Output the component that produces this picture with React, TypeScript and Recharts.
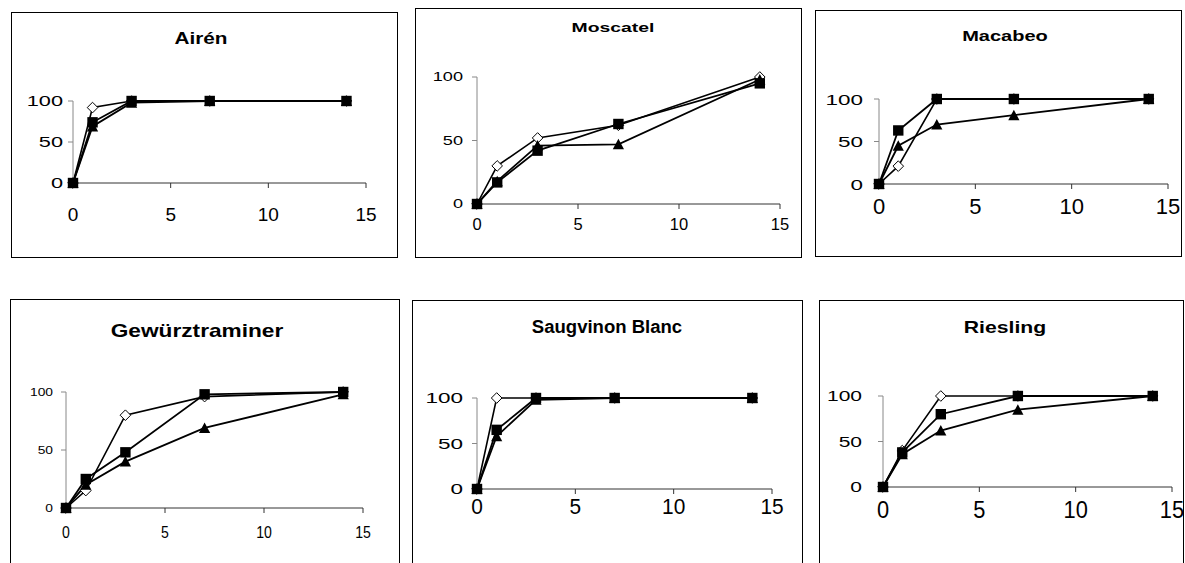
import React from "react";
import { LineChart, Line, XAxis, YAxis } from "recharts";

// sampling days and axis ticks
const days = [0, 1, 3, 7, 14];
const xTicks = [0, 5, 10, 15];
const yTicks = [0, 50, 100];

const titles = ["Airén", "Moscatel", "Macabeo", "Gewürztraminer", "Saugvinon Blanc", "Riesling"];

// % values: open diamond, filled square, filled triangle
const airenOpen = [0, 92, 100, 100, 100];
const airenSquare = [0, 74, 100, 100, 100];
const airenTriangle = [0, 69, 98, 100, 100];

const moscatelOpen = [0, 30, 52, 62, 100];
const moscatelSquare = [0, 17, 42, 63, 95];
const moscatelTriangle = [0, 18, 46, 47, 98];

const macabeoOpen = [0, 21, 100, 100, 100];
const macabeoSquare = [0, 63, 100, 100, 100];
const macabeoTriangle = [0, 45, 70, 81, 100];

const gewurzOpen = [0, 15, 80, 96, 100];
const gewurzSquare = [0, 25, 48, 98, 100];
const gewurzTriangle = [0, 20, 40, 69, 98];

const saugOpen = [0, 100, 100, 100, 100];
const saugSquare = [0, 65, 100, 100, 100];
const saugTriangle = [0, 58, 98, 100, 100];

const rieslingOpen = [0, 40, 100, 100, 100];
const rieslingSquare = [0, 38, 80, 100, 100];
const rieslingTriangle = [0, 36, 62, 85, 100];

const FONT = "'Liberation Sans', Arial, sans-serif";

// layout per panel: box [x, y, w, h], plot [x0, x15, y100, y0] in page px
const layouts = [
  { box: [11, 12, 386, 245], plot: [73, 366, 101, 183], yFs: 15, ySx: 1.45, yGap: 10, xFs: 19, xSx: 1, xGap: 24, tFs: 17, tSx: 1.22, tX: 201, tY: 44 },
  { box: [415, 8, 386, 249], plot: [477, 780, 77, 204], yFs: 12.5, ySx: 1.45, yGap: 14, xFs: 16.5, xSx: 1, xGap: 14, tFs: 12.5, tSx: 1.55, tX: 613, tY: 32 },
  { box: [815, 10, 366, 246], plot: [879, 1168, 99, 184], yFs: 15.5, ySx: 1.45, yGap: 16, xFs: 22, xSx: 1, xGap: 14, tFs: 14, tSx: 1.43, tX: 1005, tY: 41 },
  { box: [10, 299, 389, 280], plot: [66, 363, 392, 508], yFs: 11.5, ySx: 1.2, yGap: 13, xFs: 16, xSx: 0.88, xGap: 19, tFs: 18, tSx: 1.26, tX: 197, tY: 337 },
  { box: [412, 300, 390, 280], plot: [477, 772, 398, 489], yFs: 15, ySx: 1.5, yGap: 14, xFs: 22, xSx: 0.95, xGap: 9, tFs: 18, tSx: 1.03, tX: 607, tY: 333 },
  { box: [819, 300, 364, 280], plot: [883, 1172, 396, 487], yFs: 14, ySx: 1.5, yGap: 21, xFs: 23, xSx: 0.95, xGap: 15, tFs: 16.3, tSx: 1.3, tX: 1005, tY: 333 },
];

const series = [
  [airenOpen, airenSquare, airenTriangle],
  [moscatelOpen, moscatelSquare, moscatelTriangle],
  [macabeoOpen, macabeoSquare, macabeoTriangle],
  [gewurzOpen, gewurzSquare, gewurzTriangle],
  [saugOpen, saugSquare, saugTriangle],
  [rieslingOpen, rieslingSquare, rieslingTriangle],
];

const AXIS_W = 30;
const AXIS_H = 30;

const diamondDot = (p: any) => {
  const { cx, cy, index } = p;
  const r = 5.3;
  return (
    <path
      key={`o-${index}`}
      d={`M${cx},${cy - r} L${cx + r},${cy} L${cx},${cy + r} L${cx - r},${cy} Z`}
      fill="#fff"
      stroke="#000"
      strokeWidth={1}
    />
  );
};

const squareDot = (p: any) => {
  const { cx, cy, index } = p;
  return <rect key={`s-${index}`} x={cx - 5.2} y={cy - 5.2} width={10.4} height={10.4} fill="#000" />;
};

const triangleDot = (p: any) => {
  const { cx, cy, index } = p;
  return (
    <path
      key={`t-${index}`}
      d={`M${cx},${cy - 5.5} L${cx + 5.6},${cy + 5} L${cx - 5.6},${cy + 5} Z`}
      fill="#000"
    />
  );
};

function Panel({ idx }: { idx: number }) {
  const cfg = layouts[idx];
  const [open, square, triangle] = series[idx];
  const data = days.map((d, i) => ({ day: d, open: open[i], square: square[i], triangle: triangle[i] }));
  const [bx, by, bw, bh] = cfg.box;
  const [px0, px1, py1, py0] = cfg.plot;
  const margin = {
    left: px0 - bx - AXIS_W,
    right: bx + bw - px1,
    top: py1 - by,
    bottom: by + bh - py0 - AXIS_H,
  };
  const axisX = px0 - bx;
  const axisY = py0 - by;

  const xTick = (p: any) => {
    const tx = p.x;
    const ty = axisY + cfg.xGap + cfg.xFs * 0.716;
    return (
      <text
        transform={`translate(${tx},${ty}) scale(${cfg.xSx},1)`}
        textAnchor="middle"
        fontSize={cfg.xFs}
        fontFamily={FONT}
        fill="#000"
      >
        {p.payload.value}
      </text>
    );
  };

  const yTick = (p: any) => {
    const tx = axisX - cfg.yGap;
    const ty = p.y + cfg.yFs * 0.358;
    return (
      <text
        transform={`translate(${tx},${ty}) scale(${cfg.ySx},1)`}
        textAnchor="end"
        fontSize={cfg.yFs}
        fontFamily={FONT}
        fill="#000"
      >
        {p.payload.value}
      </text>
    );
  };

  return (
    <div style={{ position: "absolute", left: bx, top: by, width: bw, height: bh }}>
      <LineChart width={bw} height={bh} data={data} margin={margin}>
        <XAxis
          type="number"
          dataKey="day"
          domain={[0, 15]}
          ticks={xTicks}
          interval={0}
          height={AXIS_H}
          tickSize={5}
          tickMargin={0}
          axisLine={{ stroke: "#333", strokeWidth: 1 }}
          tickLine={{ stroke: "#333", strokeWidth: 1 }}
          tick={xTick}
        />
        <YAxis
          type="number"
          domain={[0, 100]}
          ticks={yTicks}
          interval={0}
          width={AXIS_W}
          tickSize={5}
          tickMargin={0}
          axisLine={{ stroke: "#888", strokeWidth: 1 }}
          tickLine={{ stroke: "#888", strokeWidth: 1 }}
          tick={yTick}
        />
        <Line
          type="linear"
          dataKey="open"
          stroke="#000"
          strokeWidth={1.6}
          dot={diamondDot}
          activeDot={false}
          isAnimationActive={false}
        />
        <Line
          type="linear"
          dataKey="triangle"
          stroke="#000"
          strokeWidth={1.8}
          dot={triangleDot}
          activeDot={false}
          isAnimationActive={false}
        />
        <Line
          type="linear"
          dataKey="square"
          stroke="#000"
          strokeWidth={1.8}
          dot={squareDot}
          activeDot={false}
          isAnimationActive={false}
        />
      </LineChart>
    </div>
  );
}

export default function App() {
  return (
    <div
      style={{
        position: "absolute",
        left: 0,
        top: 0,
        width: 1185,
        height: 563,
        overflow: "hidden",
        background: "#fff",
      }}
    >
      {layouts.map((_, i) => (
        <Panel key={i} idx={i} />
      ))}
      <svg
        width={1185}
        height={563}
        style={{ position: "absolute", left: 0, top: 0, pointerEvents: "none" }}
      >
        {layouts.map((cfg, i) => {
          const [bx, by, bw, bh] = cfg.box;
          return (
            <g key={i}>
              <rect x={bx + 0.5} y={by + 0.5} width={bw} height={bh} fill="none" stroke="#000" strokeWidth={1} />
              <text
                transform={`translate(${cfg.tX},${cfg.tY}) scale(${cfg.tSx},1)`}
                textAnchor="middle"
                fontSize={cfg.tFs}
                fontWeight="bold"
                fontFamily={FONT}
                fill="#000"
              >
                {titles[i]}
              </text>
            </g>
          );
        })}
      </svg>
    </div>
  );
}
